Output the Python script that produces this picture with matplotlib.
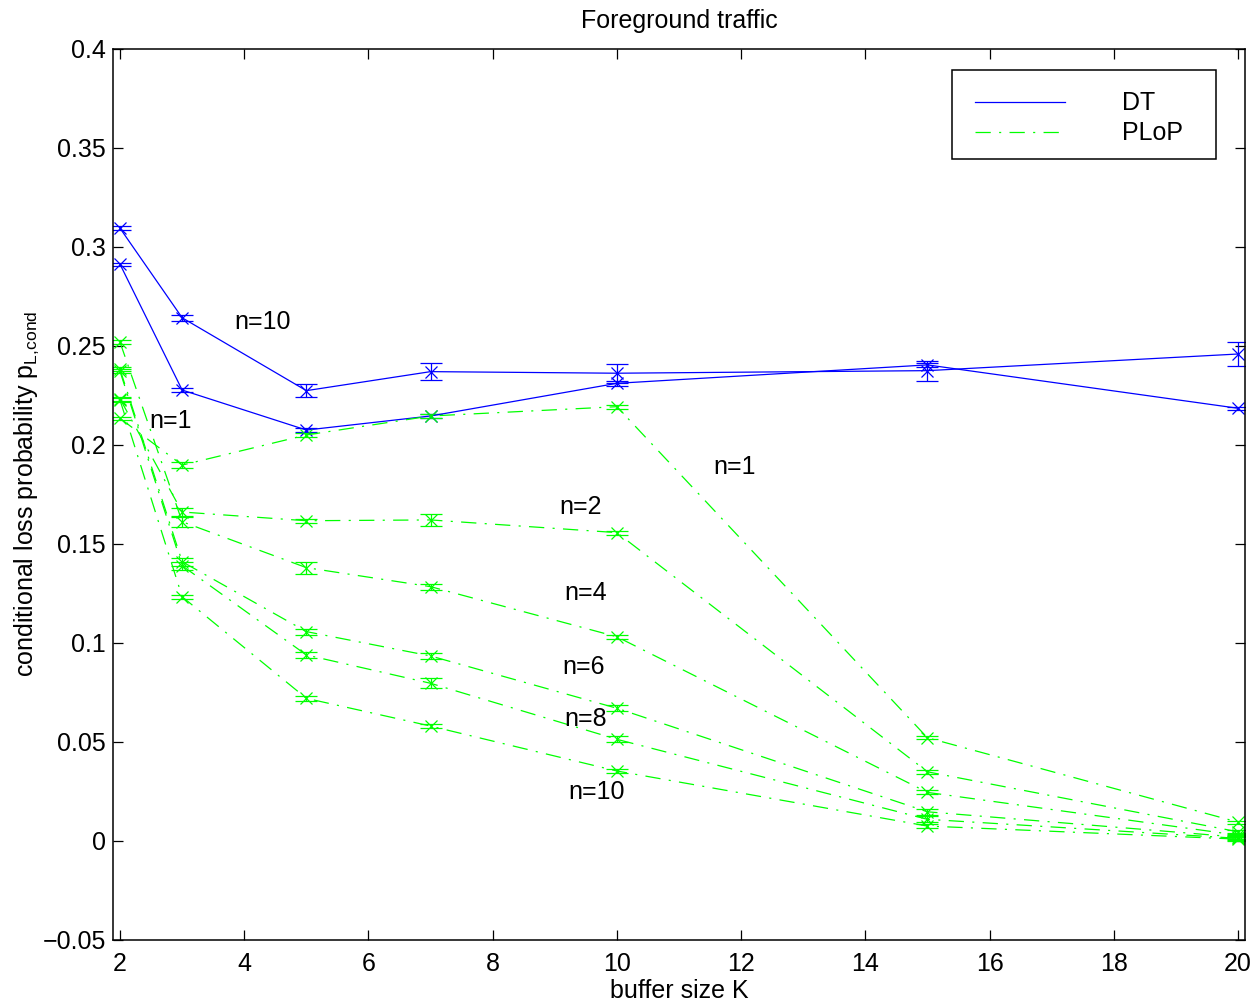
import numpy as np
import matplotlib.pyplot as plt
from matplotlib.lines import Line2D
from matplotlib.patches import Rectangle
from matplotlib.ticker import FuncFormatter

plt.rcParams['font.family'] = ['Liberation Sans', 'DejaVu Sans']
plt.rcParams['font.size'] = 18
plt.rcParams['lines.scale_dashes'] = False

# buffer sizes
K = [2, 3, 5, 7, 10, 15, 20]

# Drop-tail (DT)
dt_n1 = [0.2911, 0.2276, 0.2074, 0.2145, 0.2310, 0.2403, 0.2184]
dt_n1_err = [0.0008, 0.0008, 0.0010, 0.0008, 0.0012, 0.0010, 0.0008]
dt_n10 = [0.3093, 0.2641, 0.2273, 0.2369, 0.2361, 0.2374, 0.2458]
dt_n10_err = [0.0010, 0.0015, 0.0032, 0.0044, 0.0047, 0.0051, 0.0062]

# PLoP
plop_n1 = [0.2133, 0.1897, 0.2049, 0.2145, 0.2192, 0.0520, 0.0094]
plop_n2 = [0.2231, 0.1660, 0.1616, 0.1620, 0.1556, 0.0348, 0.0045]
plop_n4 = [0.2517, 0.1611, 0.1379, 0.1283, 0.1030, 0.0244, 0.0028]
plop_n6 = [0.2380, 0.1409, 0.1056, 0.0933, 0.0669, 0.0146, 0.0018]
plop_n8 = [0.2370, 0.1389, 0.0938, 0.0795, 0.0512, 0.0108, 0.0012]
plop_n10 = [0.2225, 0.1232, 0.0719, 0.0579, 0.0352, 0.0074, 0.0008]

plop_n1_err = [0.0008, 0.0015, 0.0010, 0.0010, 0.0010, 0.0008, 0.0008]
plop_n2_err = [0.0010, 0.0020, 0.0010, 0.0030, 0.0010, 0.0010, 0.0010]
plop_n4_err = [0.0010, 0.0025, 0.0030, 0.0015, 0.0010, 0.0010, 0.0010]
plop_n6_err = [0.0010, 0.0020, 0.0015, 0.0015, 0.0015, 0.0015, 0.0010]
plop_n8_err = [0.0010, 0.0020, 0.0015, 0.0025, 0.0015, 0.0015, 0.0010]
plop_n10_err = [0.0010, 0.0010, 0.0012, 0.0010, 0.0010, 0.0012, 0.0010]

# curve labels: text, K position, y position
labels = ['n=10', 'n=1', 'n=1', 'n=2', 'n=4', 'n=6', 'n=8', 'n=10']
label_x = [4.29, 2.81, 11.89, 9.42, 9.50, 9.46, 9.50, 9.67]
label_y = [0.262, 0.212, 0.1887, 0.1685, 0.1251, 0.0877, 0.0615, 0.0246]

dashdot = (0, (11, 6, 1.5, 6))

fig = plt.figure(figsize=(12.56, 10.06), dpi=100)
ax = fig.add_axes([0.09, 0.0659, 0.9012, 0.8857])

for y, e in [(dt_n1, dt_n1_err), (dt_n10, dt_n10_err)]:
    ax.errorbar(K, y, yerr=e, color='b', ls='-', lw=0.9, marker='x', ms=9,
                mew=0.9, capsize=8, elinewidth=0.9, capthick=0.9)

plop = [plop_n1, plop_n2, plop_n4, plop_n6, plop_n8, plop_n10]
plop_err = [plop_n1_err, plop_n2_err, plop_n4_err, plop_n6_err, plop_n8_err, plop_n10_err]
for y, e in zip(plop, plop_err):
    ax.errorbar(K, y, yerr=e, color='#00ff00', ls=dashdot, lw=0.9, marker='x', ms=9,
                mew=0.9, capsize=8, elinewidth=0.9, capthick=0.9)

for s, x, y in zip(labels, label_x, label_y):
    ax.text(x, y, s, ha='center', va='center', fontsize=18)

ax.set_xlim(2 - 0.113, 20 + 0.113)
ax.set_ylim(-0.05, 0.4)
ax.set_xticks(np.arange(2, 21, 2))
ax.set_yticks(np.arange(-0.05, 0.401, 0.05))
ax.yaxis.set_major_formatter(FuncFormatter(lambda v, p: ('%g' % round(v, 3)).replace('-', '\u2212')))
ax.tick_params(direction='in', length=7, width=0.9, top=True, right=True)
ax.tick_params(axis='x', pad=9)
ax.tick_params(axis='y', pad=5)
for sp in ax.spines.values():
    sp.set_linewidth(1.1)

ax.set_title('Foreground traffic', fontsize=18, pad=15)
ax.set_xlabel('buffer size K', fontsize=18, labelpad=2)
ax.set_ylabel('conditional loss probability $\\mathregular{p_{L{,}cond}}$', fontsize=18, labelpad=1)

# legend box drawn separately, entries placed inside it
ax.add_patch(Rectangle((0.741, 0.876), 0.233, 0.1, transform=ax.transAxes,
                       facecolor='white', edgecolor='k', lw=1.1, zorder=4))
handles = [Line2D([], [], color='b', ls='-', lw=0.9),
           Line2D([], [], color='#00ff00', ls=dashdot, lw=0.9)]
leg = ax.legend(handles, ['DT', 'PLoP'], loc='upper left', bbox_to_anchor=(0.7615, 0.9522),
                borderaxespad=0, borderpad=0, frameon=False,
                handlelength=3.6, handletextpad=2.28, labelspacing=0.24)
leg.set_zorder(5)

fig.savefig('out.png', dpi=100)
